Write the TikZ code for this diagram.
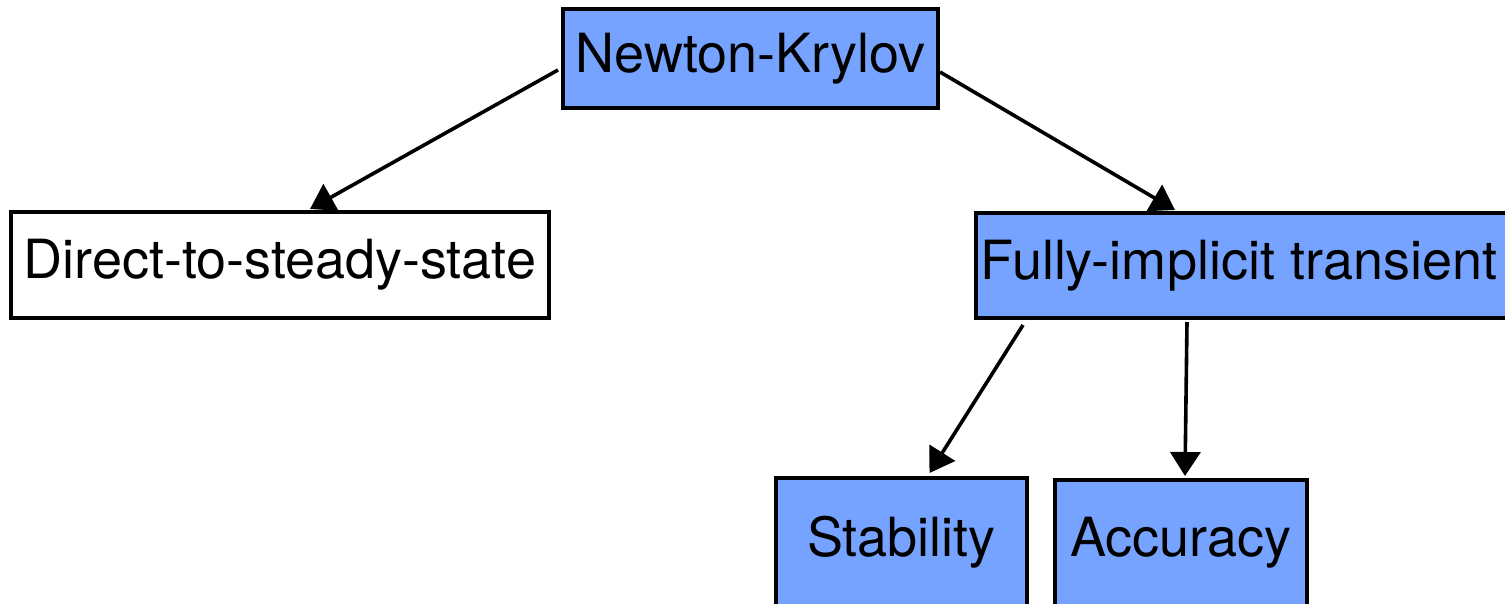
\documentclass[tikz,border=0pt]{standalone}
\usepackage{fontspec}
\setmainfont{TeX Gyre Heros}
\usetikzlibrary{arrows.meta, calc}
\definecolor{boxblue}{RGB}{117,163,255}
\tikzstyle{block} = [rectangle, draw=black, line width=2pt, inner sep=0pt, text centered, font=\fontsize{27}{31}\selectfont]
\tikzstyle{blue_block} = [block, fill=boxblue]
\tikzstyle{white_block} = [block, fill=white]
\tikzstyle{arrow} = [line width=1.8pt, -{Triangle[length=12pt,width=15pt]}]

\begin{document}
\begin{tikzpicture}[x=0.5pt, y=-0.5pt]
		\useasboundingbox (0,0) rectangle (1505,604);
		% top of the tree
		\node (nk) [blue_block, minimum width=187.5pt, minimum height=49.5pt] at (750.5,58.5) {Newton-Krylov};
		% two ways of using it
		\node (dss) [white_block, minimum width=269pt, minimum height=53pt] at (280,265) {Direct-to-steady-state};
		\node (fit) [blue_block, minimum width=267pt, minimum height=52.5pt] at (1243,265.5) {\hspace*{-4pt}Fully-implicit transient};
		% what the transient route buys
		\node (stab) [blue_block, minimum width=125.5pt, minimum height=64pt] at (901.5,542) {Stability};
		\node (acc) [blue_block, minimum width=126pt, minimum height=63pt] at (1181,543) {Accuracy};

		\draw [arrow] ($(nk.west)+(-3,11.5)$) -- ($(dss.north)+(30,-1)$);
		\draw [arrow] ($(nk.east)+(0,13.5)$) -- ($(fit.north)+(-68,-1)$);
		\draw [arrow] ($(fit.south)+(-220,5)$) -- ($(stab.north)+(28,-3)$);
		\draw [arrow] ($(fit.south)+(-56,2)$) -- ($(acc.north)+(4,-2)$);

\end{tikzpicture}
\end{document}
